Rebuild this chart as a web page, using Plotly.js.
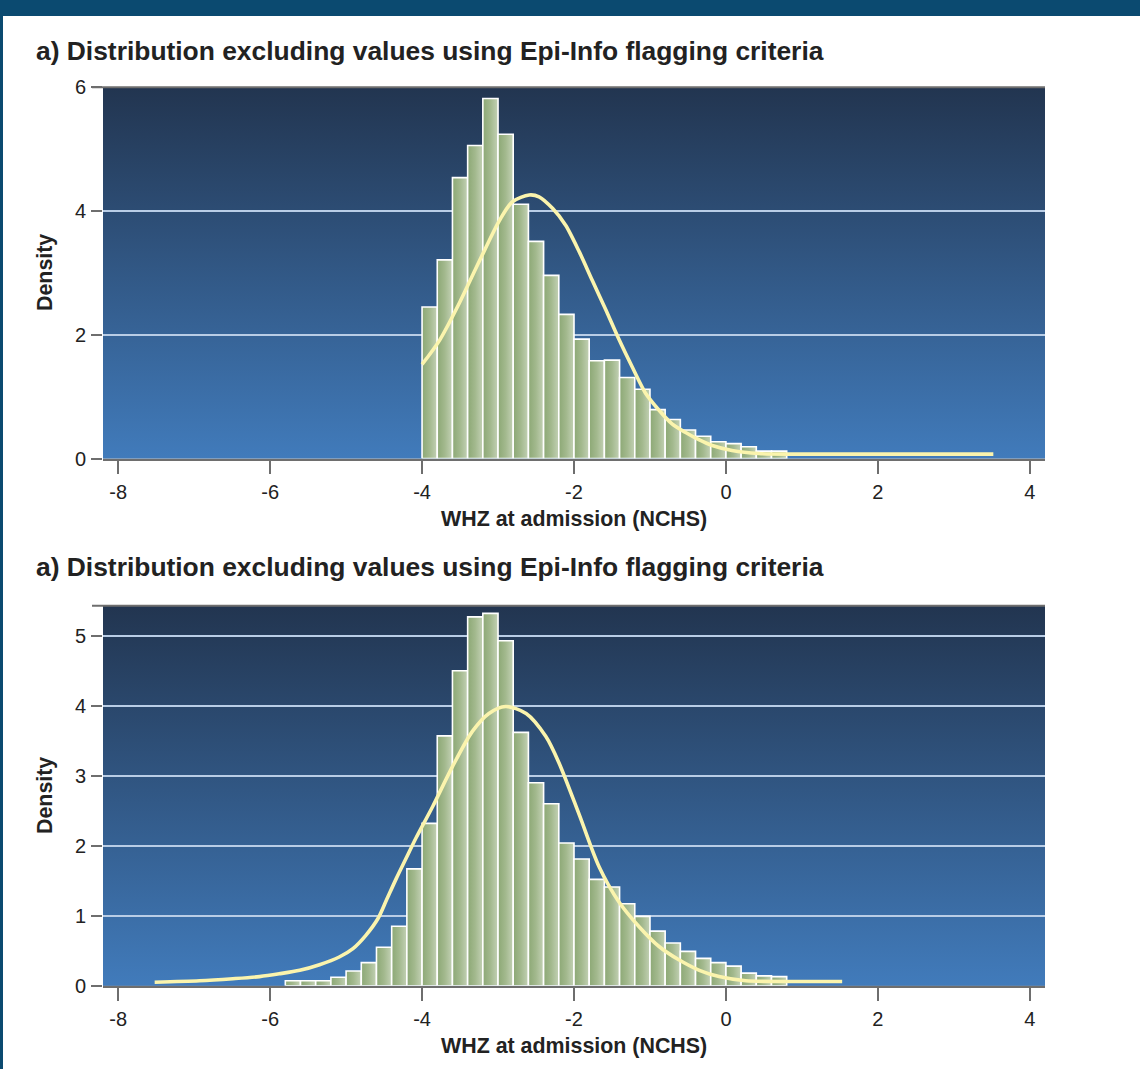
<!DOCTYPE html>
<html>
<head>
<meta charset="utf-8">
<script src="https://cdn.plot.ly/plotly-3.0.1.min.js"></script>
<style>
  html, body { margin: 0; padding: 0; background: #ffffff; }
  #chart { width: 1140px; height: 1069px; }
</style>
</head>
<body>
<div id="chart"></div>
<script>
// ---------- DATA ----------
const panelTitles = [
  "a) Distribution excluding values using Epi-Info flagging criteria",
  "a) Distribution excluding values using Epi-Info flagging criteria"
];
const xAxisTitle = "WHZ at admission (NCHS)";
const yAxisTitle = "Density";
const binWidth = 0.2;
const xTickVals = [-8, -6, -4, -2, 0, 2, 4];

// Panel 1: histogram (bin left edges, density)
const bins1 = [-4.0, -3.8, -3.6, -3.4, -3.2, -3.0, -2.8, -2.6, -2.4, -2.2, -2.0, -1.8,
               -1.6, -1.4, -1.2, -1.0, -0.8, -0.6, -0.4, -0.2, 0.0, 0.2, 0.4, 0.6];
const dens1 = [2.45, 3.21, 4.54, 5.06, 5.82, 5.24, 4.11, 3.51, 2.96, 2.33, 1.93, 1.58,
               1.59, 1.31, 1.12, 0.79, 0.63, 0.46, 0.36, 0.27, 0.24, 0.19, 0.12, 0.12];
// Panel 1: curve
const curve1X = [-4.0, -3.77, -3.51, -3.25, -2.98, -2.81, -2.59, -2.46, -2.28, -2.11, -1.93, -1.76,
                 -1.58, -1.41, -1.23, -1.06, -0.88, -0.71, -0.53, -0.35, -0.18, 0.08, 0.43, 0.96, 3.52];
const curve1Y = [1.52, 1.91, 2.51, 3.18, 3.85, 4.15, 4.26, 4.23, 4.04, 3.77, 3.34, 2.88,
                 2.40, 1.93, 1.47, 1.06, 0.78, 0.56, 0.42, 0.30, 0.21, 0.13, 0.08, 0.07, 0.07];

// Panel 2: histogram
const bins2 = [-5.8, -5.6, -5.4, -5.2, -5.0, -4.8, -4.6, -4.4, -4.2, -4.0, -3.8, -3.6, -3.4, -3.2,
               -3.0, -2.8, -2.6, -2.4, -2.2, -2.0, -1.8, -1.6, -1.4, -1.2, -1.0, -0.8, -0.6, -0.4,
               -0.2, 0.0, 0.2, 0.4, 0.6];
const dens2 = [0.07, 0.07, 0.07, 0.12, 0.21, 0.33, 0.55, 0.85, 1.67, 2.32, 3.57, 4.50, 5.27, 5.32,
               4.93, 3.62, 2.90, 2.60, 2.04, 1.81, 1.52, 1.41, 1.17, 0.99, 0.78, 0.61, 0.49, 0.39,
               0.33, 0.28, 0.18, 0.14, 0.13];
// Panel 2: curve
const curve2X = [-7.52, -6.93, -6.49, -6.14, -5.88, -5.61, -5.35, -5.09, -4.91, -4.74, -4.58, -4.47,
                 -4.34, -4.21, -4.08, -3.86, -3.60, -3.34, -3.12, -2.90, -2.63, -2.37, -2.20, -1.93,
                 -1.67, -1.41, -1.14, -0.88, -0.62, -0.35, -0.09, 0.26, 0.87, 1.53];
const curve2Y = [0.05, 0.07, 0.10, 0.13, 0.17, 0.22, 0.30, 0.41, 0.53, 0.72, 0.96, 1.22,
                 1.53, 1.82, 2.11, 2.56, 3.13, 3.63, 3.89, 3.99, 3.89, 3.56, 3.19, 2.44,
                 1.70, 1.20, 0.84, 0.56, 0.37, 0.22, 0.13, 0.07, 0.06, 0.06];

// ---------- STYLE ----------
const W = 1140, H = 1069;
const px = v => v / W;           // pixel -> paper x
const py = v => 1 - v / H;       // pixel -> paper y
const FONT = "Liberation Sans, Arial, Helvetica, sans-serif";
const BAR_SCALE = [[0, "#8ca875"], [0.5, "#a3b98e"], [1, "#c3d1b5"]];
const CURVE_COLOR = "#fbf4ad";
const AXIS_GRAY = "#6e6e6e";
const GRID = "#b9cde6";

const gradSvg = "data:image/svg+xml;utf8," + encodeURIComponent(
  "<svg xmlns='http://www.w3.org/2000/svg' width='20' height='200' preserveAspectRatio='none'>" +
  "<defs><linearGradient id='g' x1='0' y1='0' x2='0' y2='1'>" +
  "<stop offset='0' stop-color='#223550'/><stop offset='1' stop-color='#417bbb'/>" +
  "</linearGradient></defs><rect width='20' height='200' fill='url(#g)'/></svg>");

// one filled polygon per bar so each bar gets its own horizontal gradient
function barTraces(bins, dens, xa, ya) {
  return bins.map((left, i) => ({
    type: "scatter", mode: "lines", xaxis: xa, yaxis: ya,
    x: [left, left, left + binWidth, left + binWidth, left],
    y: [0, dens[i], dens[i], 0, 0],
    fill: "toself",
    fillgradient: {type: "horizontal", colorscale: BAR_SCALE},
    line: {color: "#ffffff", width: 1.6},
    hoverinfo: "skip"
  }));
}

const traces = [].concat(
  barTraces(bins1, dens1, "x", "y"),
  [{type: "scatter", mode: "lines", x: curve1X, y: curve1Y, xaxis: "x", yaxis: "y",
    line: {color: CURVE_COLOR, width: 3.6, shape: "spline", smoothing: 0.8}}],
  barTraces(bins2, dens2, "x2", "y2"),
  [{type: "scatter", mode: "lines", x: curve2X, y: curve2Y, xaxis: "x2", yaxis: "y2",
    line: {color: CURVE_COLOR, width: 3.6, shape: "spline", smoothing: 0.8}}]
);

const xDomain = [px(103), px(1045)];
const xCommon = {
  domain: xDomain, range: [-8.2, 4.2], tickvals: xTickVals, ticktext: xTickVals.map(String),
  ticks: "outside", ticklen: 13, tickwidth: 2, tickcolor: AXIS_GRAY,
  showline: true, linecolor: AXIS_GRAY, linewidth: 2, showgrid: false, zeroline: false,
  tickfont: {family: FONT, size: 20, color: "#222"}, automargin: false, fixedrange: true,
  ticklabelstandoff: 1
};
const yCommon = {
  ticks: "outside", ticklen: 11, tickwidth: 2, tickcolor: AXIS_GRAY,
  showline: false, showgrid: true, gridcolor: GRID, gridwidth: 2, zeroline: false,
  tickfont: {family: FONT, size: 20, color: "#222"}, automargin: false, fixedrange: true,
  ticklabelstandoff: 1
};

const layout = {
  width: W, height: H, margin: {l: 0, r: 0, t: 0, b: 0},
  paper_bgcolor: "#ffffff", plot_bgcolor: "#2f5680",
  showlegend: false,
  font: {family: FONT, color: "#222"},
  xaxis: Object.assign({}, xCommon, {anchor: "y"}),
  yaxis: Object.assign({}, yCommon, {domain: [py(458.5), py(87.3)], range: [0, 6], tickvals: [0, 2, 4, 6], anchor: "x"}),
  xaxis2: Object.assign({}, xCommon, {anchor: "y2"}),
  yaxis2: Object.assign({}, yCommon, {domain: [py(985.7), py(605.7)], range: [0, 5.43], tickvals: [0, 1, 2, 3, 4, 5], anchor: "x2"}),
  images: [
    {source: gradSvg, xref: "x domain", yref: "y domain", x: 0, y: 1, sizex: 1, sizey: 1,
     xanchor: "left", yanchor: "top", sizing: "stretch", layer: "below"},
    {source: gradSvg, xref: "x2 domain", yref: "y2 domain", x: 0, y: 1, sizex: 1, sizey: 1,
     xanchor: "left", yanchor: "top", sizing: "stretch", layer: "below"}
  ],
  shapes: [
    // page frame
    {type: "rect", xref: "paper", yref: "paper", x0: 0, x1: 1, y0: py(16), y1: 1,
     fillcolor: "#0b4a70", line: {width: 0}, layer: "above"},
    {type: "rect", xref: "paper", yref: "paper", x0: 0, x1: px(3), y0: 0, y1: 1,
     fillcolor: "#0b4a70", line: {width: 0}, layer: "above"},
    // top borders of plot areas
    {type: "line", xref: "paper", yref: "y domain", x0: px(92), x1: px(1045), y0: 1, y1: 1,
     line: {color: AXIS_GRAY, width: 2}, layer: "above"},
    {type: "line", xref: "paper", yref: "y2 domain", x0: px(92), x1: px(1045), y0: 1, y1: 1,
     line: {color: AXIS_GRAY, width: 2}, layer: "above"}
  ],
  annotations: [
    {text: "<b>" + panelTitles[0] + "</b>", xref: "paper", yref: "paper", x: px(34), y: py(51),
     xanchor: "left", yanchor: "middle", showarrow: false, font: {family: FONT, size: 26.4, color: "#222"}},
    {text: "<b>" + panelTitles[1] + "</b>", xref: "paper", yref: "paper", x: px(34), y: py(567),
     xanchor: "left", yanchor: "middle", showarrow: false, font: {family: FONT, size: 26.4, color: "#222"}},
    {text: "<b>" + xAxisTitle + "</b>", xref: "paper", yref: "paper", x: px(574), y: py(519),
     xanchor: "center", yanchor: "middle", showarrow: false, font: {family: FONT, size: 21.4, color: "#222"}},
    {text: "<b>" + xAxisTitle + "</b>", xref: "paper", yref: "paper", x: px(574), y: py(1046),
     xanchor: "center", yanchor: "middle", showarrow: false, font: {family: FONT, size: 21.4, color: "#222"}},
    {text: "<b>" + yAxisTitle + "</b>", xref: "paper", yref: "paper", x: px(45), y: py(273),
     xanchor: "center", yanchor: "middle", textangle: -90, showarrow: false, font: {family: FONT, size: 21.4, color: "#222"}},
    {text: "<b>" + yAxisTitle + "</b>", xref: "paper", yref: "paper", x: px(45), y: py(796),
     xanchor: "center", yanchor: "middle", textangle: -90, showarrow: false, font: {family: FONT, size: 21.4, color: "#222"}}
  ]
};

Plotly.newPlot("chart", traces, layout, {displayModeBar: false, staticPlot: true});
</script>
</body>
</html>
